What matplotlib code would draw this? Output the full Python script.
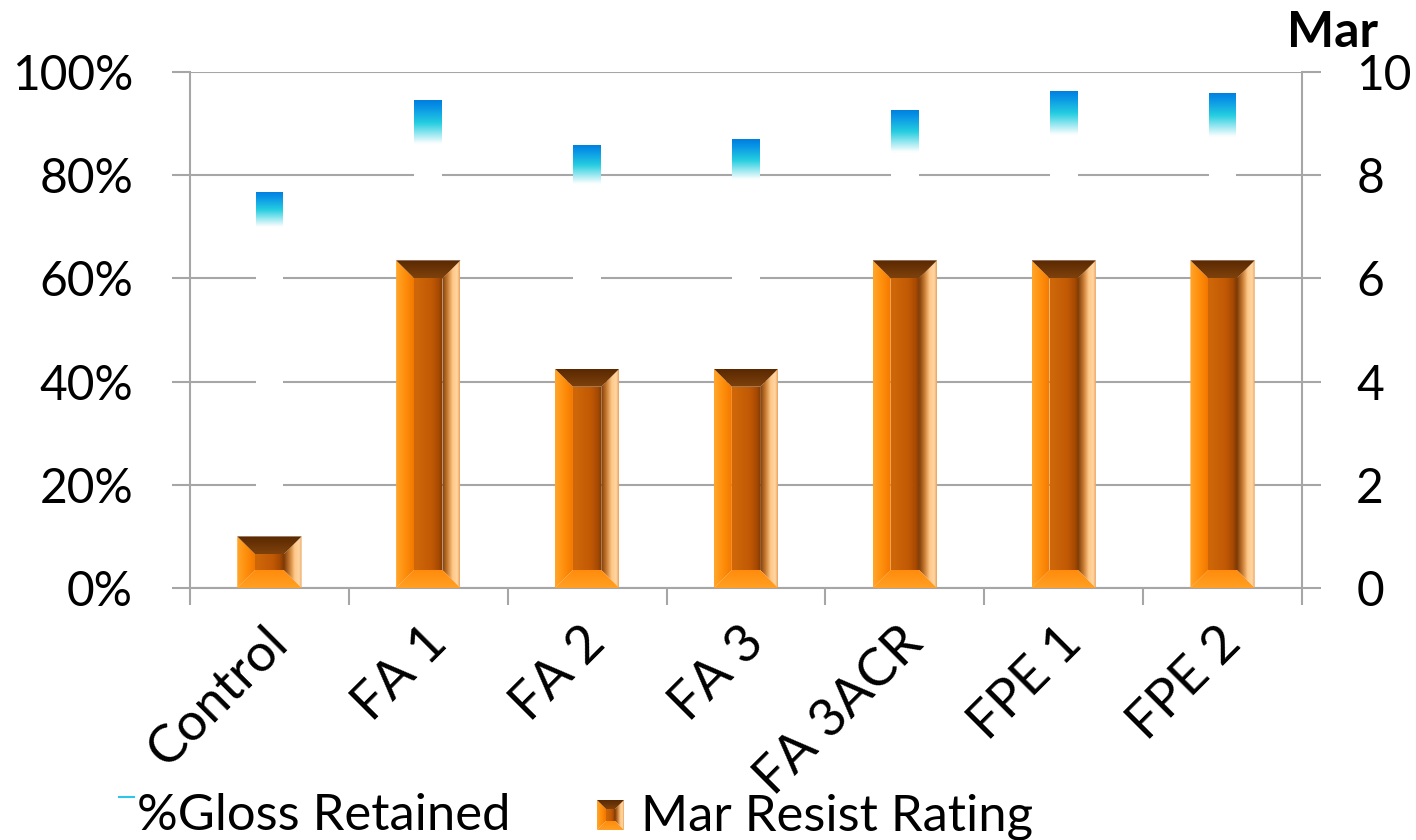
import numpy as np
import matplotlib
matplotlib.use('Agg')
import matplotlib.pyplot as plt
from matplotlib.colors import LinearSegmentedColormap
from matplotlib.patches import Polygon
from matplotlib.lines import Line2D
from matplotlib.transforms import ScaledTranslation

categories = ['Control', 'FA 1', 'FA 2', 'FA 3', 'FA 3ACR', 'FPE 1', 'FPE 2']
gloss_retained = [76.8, 94.5, 85.9, 87.0, 92.7, 96.4, 96.0]
mar_rating = [1.0, 6.35, 4.25, 4.25, 6.35, 6.35, 6.35]
pct_ticks = [0, 20, 40, 60, 80, 100]
pct_labels = ['0%', '20%', '40%', '60%', '80%', '100%']
mar_ticks = [0, 2, 4, 6, 8, 10]

plt.rcParams['font.family'] = ['Lato', 'DejaVu Sans']
GRID = '#a6a6a6'
FS = 34.5

# colour stops for the bevelled columns
LEFT_C = [(0, '#ffa62c'), (0.5, '#ff8f0c'), (1, '#f27800')]
CENTER_C = [(0, '#d0680a'), (0.6, '#c25a05'), (0.85, '#a84a03'), (1, '#7e3a04')]
RIGHT_C = [(0, '#7a3a08'), (0.3, '#c77a30'), (0.6, '#ffc98a'), (0.85, '#ffd6a2'), (1, '#eaa05a')]
TOP_C = [(0, '#7e420c'), (1, '#5a2802')]
BOTTOM_C = [(0, '#ffa024'), (1, '#ff8a0a')]
GLOSS_C = [(0, '#ffffff'), (0.912, '#ffffff'), (0.955, '#24cde0'), (0.985, '#0a96e6'), (1, '#0080e0')]


def gradient_fill(ax, poly, extent, colors, vertical, zorder):
    cmap = LinearSegmentedColormap.from_list('g', colors)
    ramp = np.linspace(0, 1, 256)
    arr = ramp.reshape(-1, 1) if vertical else ramp.reshape(1, -1)
    im = ax.imshow(arr, cmap=cmap, extent=extent, origin='lower', aspect='auto',
                   interpolation='bilinear', zorder=zorder)
    clip = Polygon(poly, closed=True, transform=ax.transData)
    im.set_clip_path(clip)


def bevel_bar(ax, xc, width, height, bpx, zorder=3):
    px_x = ax.bbox.width / np.diff(ax.get_xlim())[0]
    px_y = ax.bbox.height / np.diff(ax.get_ylim())[0]
    bx = bpx / px_x
    by = min(bpx / px_y, height / 2.5)
    x0, x1 = xc - width / 2, xc + width / 2
    y0, y1 = 0, height
    ix0, ix1, iy0, iy1 = x0 + bx, x1 - bx, y0 + by, y1 - by
    left = [(x0, y0), (ix0, iy0), (ix0, iy1), (x0, y1)]
    right = [(x1, y0), (x1, y1), (ix1, iy1), (ix1, iy0)]
    top = [(x0, y1), (x1, y1), (ix1, iy1), (ix0, iy1)]
    bottom = [(x0, y0), (ix0, iy0), (ix1, iy0), (x1, y0)]
    center = [(ix0, iy0), (ix1, iy0), (ix1, iy1), (ix0, iy1)]
    gradient_fill(ax, center, (ix0, ix1, iy0, iy1), CENTER_C, False, zorder)
    gradient_fill(ax, left, (x0, ix0, y0, y1), LEFT_C, False, zorder)
    gradient_fill(ax, right, (ix1, x1, y0, y1), RIGHT_C, False, zorder)
    gradient_fill(ax, top, (x0, x1, iy1, y1), TOP_C, True, zorder + 0.1)
    gradient_fill(ax, bottom, (x0, x1, y0, iy0), BOTTOM_C, True, zorder + 0.1)


fig = plt.figure(figsize=(14.16, 8.4), dpi=100)
ax = fig.add_axes([190 / 1416, 252 / 840, 1112 / 1416, 516 / 840])
ax2 = ax.twinx()

x = np.arange(len(categories))
ax.set_xlim(-0.5, len(categories) - 0.5)
ax.set_ylim(0, 100)
ax2.set_ylim(0, 10)
ax.autoscale(False)
ax2.autoscale(False)

# %Gloss Retained: white columns with a blue gradient cap
gw = 0.175
for xi, v in zip(x, gloss_retained):
    rect = [(xi - gw / 2, 0), (xi + gw / 2, 0), (xi + gw / 2, v), (xi - gw / 2, v)]
    gradient_fill(ax, rect, (xi - gw / 2, xi + gw / 2, 0, v), GLOSS_C, True, 2)

# Mar Resist Rating: bevelled orange columns
for xi, v in zip(x, mar_rating):
    bevel_bar(ax2, xi, 0.405, v, 18)

ax.set_axisbelow(True)
ax.yaxis.grid(True, color=GRID, lw=1.5)
ax.set_yticks(pct_ticks)
ax.set_yticklabels(pct_labels)
ax.tick_params(axis='y', length=13, width=1.5, color=GRID, pad=28, labelsize=FS)
ax2.set_yticks(mar_ticks)
ax2.tick_params(axis='y', length=14, width=1.5, color=GRID, pad=25, labelsize=FS)

ax.set_xticks(x)
ax.set_xticklabels(categories, rotation=45, ha='right', va='top', rotation_mode='anchor')
ax.set_xticks(np.arange(-0.5, len(categories), 1), minor=True)
ax.tick_params(axis='x', which='major', length=0, pad=22, labelsize=38)
ax.tick_params(axis='x', which='minor', length=12, width=1.5, color=GRID)
for lab in ax.get_xticklabels():
    lab.set_transform(lab.get_transform() + ScaledTranslation(-0.06, 0, fig.dpi_scale_trans))

for sp in ['top', 'right']:
    ax.spines[sp].set_visible(False)
for sp in ['top', 'left', 'bottom']:
    ax2.spines[sp].set_visible(False)
for sp in [ax.spines['left'], ax.spines['bottom'], ax2.spines['right']]:
    sp.set_color(GRID)
    sp.set_linewidth(1.5)

# truncated axis title
fig.text(1287 / 1416, 1 - 47 / 840, 'Mar', fontsize=36, fontweight='bold', va='baseline')

# legend
fig.add_artist(Line2D([119 / 1416, 134 / 1416], [1 - 797 / 840] * 2, color='#30c4e8', lw=1.5))
fig.text(137 / 1416, 1 - 830 / 840, '%Gloss Retained', fontsize=36.5, va='baseline')
lax = fig.add_axes([597 / 1416, 10 / 840, 27 / 1416, 30 / 840])
lax.set_xlim(0, 1)
lax.set_ylim(0, 1)
lax.autoscale(False)
lax.axis('off')
bevel_bar(lax, 0.5, 1.0, 1.0, 9)
fig.text(641 / 1416, 1 - 830 / 840, 'Mar Resist Rating', fontsize=36.5, va='baseline')

fig.savefig('out.png', dpi=100)
